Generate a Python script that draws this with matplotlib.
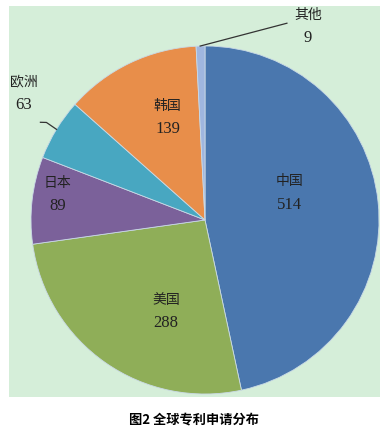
import numpy as np
import matplotlib.pyplot as plt

# data
regions = ['中国', '美国', '日本', '欧洲', '韩国', '其他']
counts = [514, 288, 89, 63, 139, 9]
colors = ['#4a77ae', '#8fae58', '#7b619a', '#48a7c1', '#e88e4a', '#9fb6df']
title = '图2 全球专利申请分布'

# label placement: angle (deg) and distance as fraction of radius
label_pos = {'中国': (18, 0.51), '美国': (-113, 0.57), '日本': (170, 0.86),
             '欧洲': (145, 1.27), '韩国': (110, 0.63), '其他': (62, 1.26)}
# leader lines as (angle, radius fraction) points
leaders = {'其他': [(91.6, 1.0), (67.4, 1.225)],
           '欧洲': [(149.3, 1.10), (148.4, 1.07), (148.6, 1.0)]}

W, H = 392, 436
fig = plt.figure(figsize=(W / 100, H / 100), dpi=100)

# green panel in pixel units
px0, py0, pw, ph = 9, 6, 371, 391
ax = fig.add_axes([px0 / W, 1 - (py0 + ph) / H, pw / W, ph / H])
ax.set_facecolor('#d5eed9')

cx, cy, R = 205 - px0, (py0 + ph) - 220, 174
wedges, _ = ax.pie(counts, colors=colors, startangle=90, counterclock=False,
                   center=(cx, cy), radius=R, frame=True,
                   wedgeprops=dict(edgecolor='#c9d9e6', linewidth=0.6))
ax.set_xlim(0, pw)
ax.set_ylim(0, ph)
ax.set_xticks([])
ax.set_yticks([])
for s in ax.spines.values():
    s.set_visible(False)

fam = ['Liberation Serif', 'Noto Sans CJK SC']
for name, val in zip(regions, counts):
    ang, d = label_pos[name]
    tx = cx + d * R * np.cos(np.radians(ang))
    ty = cy + d * R * np.sin(np.radians(ang))
    ax.text(tx, ty + 11, name, ha='center', va='center', fontsize=10,
            family=fam, color='#222222')
    ax.text(tx, ty - 12, str(val), ha='center', va='center', fontsize=12,
            family=fam, color='#222222')

for name, pts in leaders.items():
    xs = [cx + d * R * np.cos(np.radians(a)) for a, d in pts]
    ys = [cy + d * R * np.sin(np.radians(a)) for a, d in pts]
    ax.plot(xs, ys, color='#333333', lw=0.9)

fig.text(194 / W, 1 - 419 / H, title, ha='center', va='center', fontsize=9.5,
         fontweight='bold', family=['Noto Sans CJK SC', 'DejaVu Sans'])

fig.savefig('out.png', dpi=100)
